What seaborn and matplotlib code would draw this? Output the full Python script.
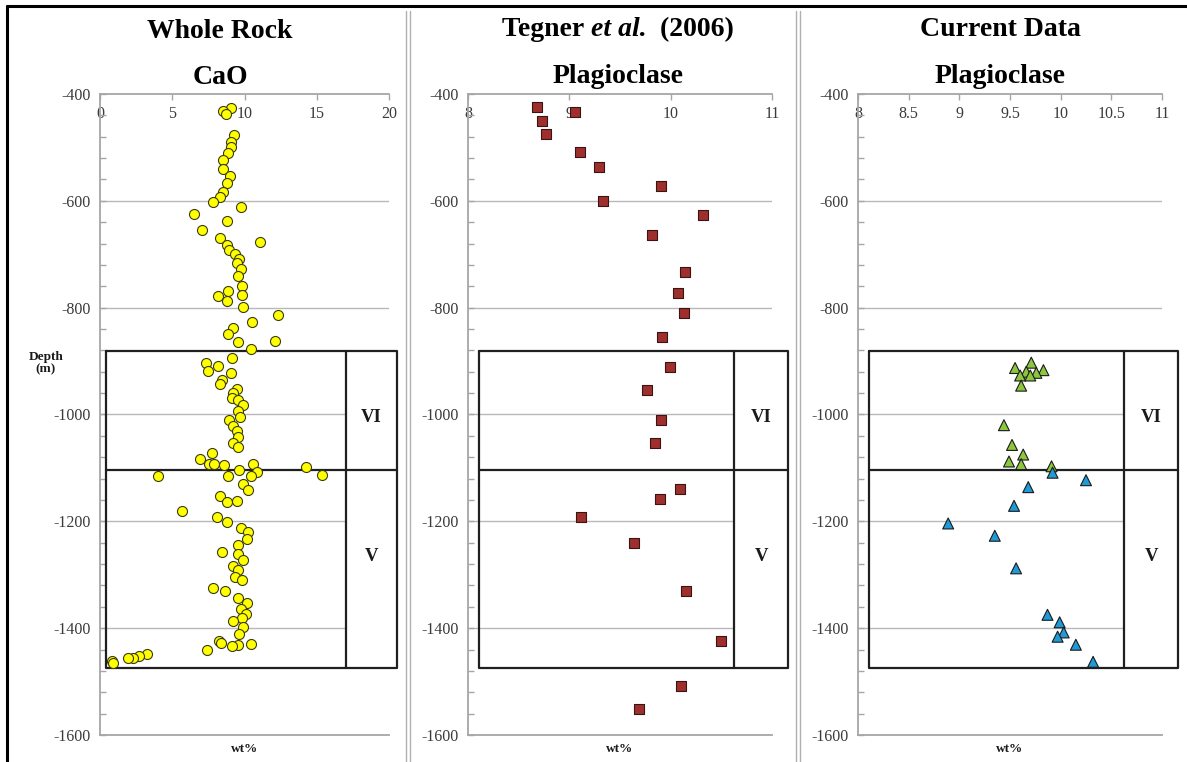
import pandas as pd
import matplotlib
matplotlib.use("Agg")
import matplotlib.pyplot as plt
import seaborn as sns
from matplotlib.ticker import MultipleLocator

# ─── DATA ───────────────────────────────────────────────────────
# whole rock CaO (wt%) vs depth (m)
cao_wt = [9.07, 8.54, 8.70, 9.27, 9.07, 9.07, 8.88, 8.54, 8.54, 9.00,
          8.77, 8.49, 8.30, 7.80, 9.76, 6.53, 8.77, 7.04, 8.30, 11.10,
          8.77, 8.95, 9.34, 9.62, 9.46, 9.76, 9.57, 9.85, 8.88, 9.85,
          8.19, 8.77, 9.92, 12.30, 10.50, 9.18, 8.88, 9.57, 12.11, 10.45,
          9.16, 7.31, 8.19, 7.50, 9.07, 8.46, 8.30, 9.46, 9.23, 9.11,
          9.57, 9.92, 9.53, 9.69, 8.95, 9.23, 9.46, 9.57, 9.18, 9.57,
          7.77, 6.92, 7.54, 7.89, 8.58, 10.61, 14.26, 9.64, 10.84, 4.04,
          8.88, 15.34, 10.43, 9.92, 10.26, 8.30, 8.77, 9.46, 5.65, 8.07,
          8.77,
          9.76, 10.26, 10.15, 9.53, 8.46, 9.53, 9.92, 9.23, 9.57, 9.34,
          9.85, 7.84, 8.63, 9.57, 10.15, 9.74, 10.08, 9.80, 9.23, 9.92,
          9.64, 8.26, 8.35, 9.57, 9.11, 10.43, 7.38, 3.23, 2.72, 2.31,
          1.96, 0.85, 0.92]
cao_depth = [-427, -431, -437, -477, -490, -500, -511, -524, -541, -553,
             -566, -584, -593, -603, -611, -625, -638, -654, -670, -678,
             -682, -692, -699, -709, -716, -728, -741, -759, -768, -776,
             -779, -788, -799, -813, -826, -838, -849, -865, -862, -877,
             -894, -903, -910, -919, -923, -936, -942, -953, -959, -969,
             -972, -982, -994, -1004, -1010, -1022, -1031, -1042, -1053, -1061,
             -1072, -1084, -1092, -1093, -1095, -1092, -1098, -1104, -1107, -1115,
             -1116, -1114, -1116, -1130, -1141, -1153, -1164, -1162, -1181, -1191,
             -1201,
             -1212, -1220, -1234, -1244, -1257, -1262, -1273, -1284, -1292, -1305,
             -1310, -1324, -1331, -1343, -1352, -1364, -1374, -1381, -1386, -1397,
             -1411, -1424, -1427, -1432, -1434, -1430, -1441, -1448, -1452, -1455,
             -1456, -1461, -1465]

# Tegner et al. (2006) plagioclase
tegner_wt = [8.68, 9.06, 8.73, 8.77, 9.11, 9.29, 9.90, 9.33, 10.32, 9.82,
             10.14, 10.07, 10.13, 9.91, 9.99, 9.77, 9.90, 9.85, 10.09, 9.89,
             9.12, 9.64, 10.15, 10.50, 10.10, 9.69]
tegner_depth = [-424, -434, -450, -475, -508, -537, -572, -601, -627, -664,
                -733, -773, -810, -855, -911, -955, -1011, -1053, -1140, -1159,
                -1191, -1241, -1331, -1424, -1508, -1551]

# current data plagioclase, unit VI (green) and unit V (blue)
cur_vi_wt = [9.71, 9.55, 9.66, 9.83, 9.76, 9.70, 9.60, 9.61, 9.44, 9.52,
             9.63, 9.49, 9.61, 9.91]
cur_vi_depth = [-903, -913, -920, -917, -922, -927, -927, -946, -1020, -1057,
                -1075, -1088, -1093, -1097]
cur_v_wt = [9.92, 10.25, 9.68, 9.54, 8.89, 9.35, 9.56, 9.87, 9.99, 10.03,
            9.97, 10.15, 10.32]
cur_v_depth = [-1109, -1123, -1136, -1171, -1204, -1227, -1288, -1375, -1389, -1408,
               -1416, -1431, -1463]

UNIT_TOP, UNIT_SPLIT, UNIT_BASE = -882, -1103, -1475
# ────────────────────────────────────────────────────────────────

sns.set_style("white")
plt.rcParams["font.family"] = ["Liberation Serif", "DejaVu Serif"]
plt.rcParams["axes.unicode_minus"] = False
plt.rcParams["text.color"] = "black"

W, H = 1187, 762
fig = plt.figure(figsize=(W / 100, H / 100), dpi=100)


def px_rect(l, r, t, b):
    return [l / W, 1 - b / H, (r - l) / W, (b - t) / H]


GRAY = "#a6a6a6"
TXT = "#3a3a3a"


def style_axis(ax, xlim, xticks, col_x):
    ax.set_xlim(*xlim)
    ax.set_ylim(-1600, -400)
    ax.set_xticks(xticks)
    ax.set_xticklabels([f"{t:g}" for t in xticks])
    ax.yaxis.set_major_locator(MultipleLocator(200))
    ax.yaxis.set_minor_locator(MultipleLocator(40))
    ax.xaxis.set_ticks_position("top")
    ax.tick_params(axis="x", top=True, bottom=False, labeltop=True, labelbottom=False,
                   direction="in", length=4, width=1, color=GRAY, pad=-20,
                   labelsize=11.5, labelcolor=TXT)
    ax.tick_params(axis="y", which="major", left=True, direction="in", length=4,
                   width=1, color=GRAY, pad=7, labelsize=11.5, labelcolor=TXT)
    ax.tick_params(axis="y", which="minor", left=True, direction="in", length=4,
                   width=1, color=GRAY)
    for side in ("left", "top", "bottom"):
        ax.spines[side].set_color(GRAY)
        ax.spines[side].set_linewidth(1.3)
    ax.spines["right"].set_visible(False)
    for d in (-600, -800, -1000, -1200, -1400):
        ax.axhline(d, color="#b8b8b8", lw=1.0, zorder=0)
    ax.set_xlabel("")
    ax.set_ylabel("")
    ax.text(0.5, -0.012, "wt%", transform=ax.transAxes, ha="center", va="top",
            fontsize=9.5, fontweight="bold", color="#1a1a1a")

    # stratigraphic unit box (x in axes fraction, y in depth)
    tr = ax.get_yaxis_transform()
    x0, xd, x1 = col_x
    ax.fill_between([xd, x1], UNIT_BASE, UNIT_TOP, transform=tr, color="white",
                    zorder=1.5, clip_on=False, lw=0)
    kw = dict(transform=tr, color="#1f1f1f", lw=1.6, clip_on=False, zorder=2)
    ax.plot([x0, x1, x1, x0, x0], [UNIT_TOP, UNIT_TOP, UNIT_BASE, UNIT_BASE, UNIT_TOP], **kw)
    ax.plot([x0, x1], [UNIT_SPLIT, UNIT_SPLIT], **kw)
    ax.plot([xd, xd], [UNIT_TOP, UNIT_BASE], **kw)
    xm = (xd + x1) / 2
    ax.text(xm, -1005, "VI", transform=tr, ha="center", va="center",
            fontsize=13.5, fontweight="bold", color="#1a1a1a", zorder=3)
    ax.text(xm, -1265, "V", transform=tr, ha="center", va="center",
            fontsize=13.5, fontweight="bold", color="#1a1a1a", zorder=3)


# ── panel 1: whole rock CaO
ax1 = fig.add_axes(px_rect(100, 389, 94, 735))
df1 = pd.DataFrame({"wt": cao_wt, "depth": cao_depth})
sns.scatterplot(data=df1, x="wt", y="depth", ax=ax1, color="#ffff00",
                edgecolor="#3b3b10", linewidth=0.8, s=52, zorder=4, clip_on=False)
style_axis(ax1, (0, 20), [0, 5, 10, 15, 20], (0.021, 0.851, 1.028))

# ── panel 2: Tegner et al. (2006)
ax2 = fig.add_axes(px_rect(468, 772, 94, 735))
df2 = pd.DataFrame({"wt": tegner_wt, "depth": tegner_depth})
sns.scatterplot(data=df2, x="wt", y="depth", ax=ax2, marker="s", color="#9e2f2c",
                edgecolor="#3a1414", linewidth=0.8, s=62, zorder=4)
style_axis(ax2, (8, 11), [8, 9, 10, 11], (0.036, 0.875, 1.053))

# ── panel 3: current data
ax3 = fig.add_axes(px_rect(858, 1162, 94, 735))
df3 = pd.DataFrame({
    "wt": cur_vi_wt + cur_v_wt,
    "depth": cur_vi_depth + cur_v_depth,
    "unit": ["VI"] * len(cur_vi_wt) + ["V"] * len(cur_v_wt),
})
sns.scatterplot(data=df3, x="wt", y="depth", hue="unit", ax=ax3, marker="^",
                palette={"VI": "#8cc63e", "V": "#1f9ad6"}, edgecolor="#1a1a1a",
                linewidth=0.8, s=62, zorder=4, legend=False)
style_axis(ax3, (8, 11), [8, 8.5, 9, 9.5, 10, 10.5, 11], (0.036, 0.875, 1.053))

# ── titles
tkw = dict(va="baseline", fontsize=20, fontweight="bold", color="black")
fig.text(220 / W, 1 - 38 / H, "Whole Rock", ha="center", **tkw)
fig.text(220 / W, 1 - 84 / H, "CaO", ha="center", **tkw)
fig.text(618 / W, 1 - 83 / H, "Plagioclase", ha="center", **tkw)
fig.text(1000 / W, 1 - 36 / H, "Current Data", ha="center", **tkw)
fig.text(1000 / W, 1 - 83 / H, "Plagioclase", ha="center", **tkw)

# "Tegner et al. (2006)" with italic "et al." - laid out piece by piece
parts = [("Tegner ", "normal"), ("et al.", "italic"), ("  (2006)", "normal")]
pieces = [fig.text(0, 1 - 36 / H, s, ha="left", style=st, **tkw) for s, st in parts]
renderer = fig.canvas.get_renderer()
widths = [p.get_window_extent(renderer).width for p in pieces]
x = 618 - sum(widths) / 2
for p, w in zip(pieces, widths):
    p.set_x(x / W)
    x += w

fig.text(46 / W, 1 - 363 / H, "Depth\n(m)", ha="center", va="center",
         fontsize=9.5, fontweight="bold", color="#1a1a1a", linespacing=1.1)

# ── panel separators and outer frame
for xs in ((406, 410), (796, 800)):
    for xx in xs:
        fig.add_artist(plt.Line2D([xx / W, xx / W], [0, 1 - 11 / H],
                                  color="#b0b0b0", lw=1.0))
fig.add_artist(plt.Line2D([7 / W, 1], [1 - 6 / H, 1 - 6 / H], color="black", lw=2.2))
fig.add_artist(plt.Line2D([7 / W, 7 / W], [0, 1 - 6 / H], color="black", lw=2.2))

fig.savefig("out.png", dpi=100)
